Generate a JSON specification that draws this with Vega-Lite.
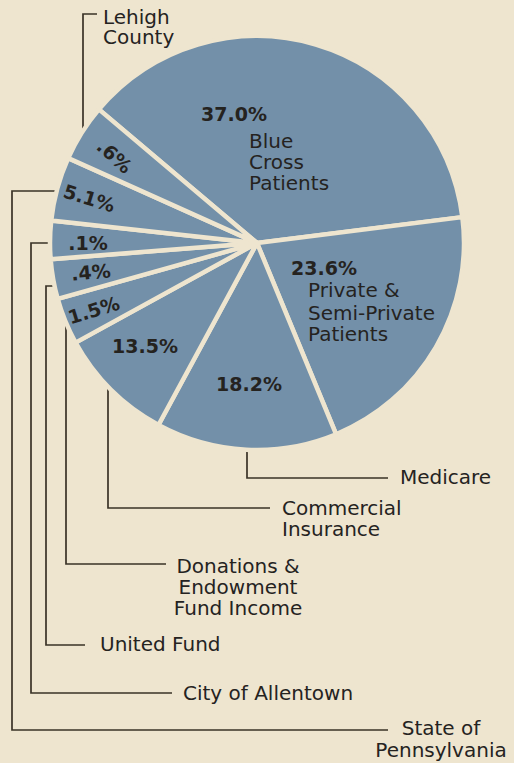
{
  "$schema": "https://vega.github.io/schema/vega-lite/v6.json",
  "width": 514,
  "height": 763,
  "autosize": {"type": "none"},
  "padding": 0,
  "background": "#eee5cf",
  "config": {"view": {"stroke": null}},
  "datasets": {
    "sources": [
      {"rank": 1, "source": "Blue Cross Patients", "pct": 37.0, "drawn": 36.84},
      {"rank": 2, "source": "Private & Semi-Private Patients", "pct": 23.6, "drawn": 20.75},
      {"rank": 3, "source": "Medicare", "pct": 18.2, "drawn": 14.14},
      {"rank": 4, "source": "Commercial Insurance", "pct": 13.5, "drawn": 9.11},
      {"rank": 5, "source": "Donations & Endowment Fund Income", "pct": 1.5, "drawn": 3.64},
      {"rank": 6, "source": "United Fund", "pct": 0.4, "drawn": 3.11},
      {"rank": 7, "source": "City of Allentown", "pct": 0.1, "drawn": 2.97},
      {"rank": 8, "source": "State of Pennsylvania", "pct": 5.1, "drawn": 5.0},
      {"rank": 9, "source": "Lehigh County", "pct": 0.6, "drawn": 4.44}
    ],
    "leaders": [
      {"leader": "Lehigh County", "step": 1, "x": 97, "y": 14},
      {"leader": "Lehigh County", "step": 2, "x": 83, "y": 14},
      {"leader": "Lehigh County", "step": 3, "x": 83, "y": 138},
      {"leader": "State of Pennsylvania", "step": 1, "x": 62, "y": 191},
      {"leader": "State of Pennsylvania", "step": 2, "x": 12, "y": 191},
      {"leader": "State of Pennsylvania", "step": 3, "x": 12, "y": 730},
      {"leader": "State of Pennsylvania", "step": 4, "x": 388, "y": 730},
      {"leader": "City of Allentown", "step": 1, "x": 56, "y": 243},
      {"leader": "City of Allentown", "step": 2, "x": 31, "y": 243},
      {"leader": "City of Allentown", "step": 3, "x": 31, "y": 693},
      {"leader": "City of Allentown", "step": 4, "x": 172, "y": 693},
      {"leader": "United Fund", "step": 1, "x": 60, "y": 286},
      {"leader": "United Fund", "step": 2, "x": 46, "y": 286},
      {"leader": "United Fund", "step": 3, "x": 46, "y": 645},
      {"leader": "United Fund", "step": 4, "x": 85, "y": 645},
      {"leader": "Donations & Endowment Fund Income", "step": 1, "x": 66, "y": 314},
      {"leader": "Donations & Endowment Fund Income", "step": 2, "x": 66, "y": 564},
      {"leader": "Donations & Endowment Fund Income", "step": 3, "x": 166, "y": 564},
      {"leader": "Commercial Insurance", "step": 1, "x": 108, "y": 380},
      {"leader": "Commercial Insurance", "step": 2, "x": 108, "y": 508},
      {"leader": "Commercial Insurance", "step": 3, "x": 270, "y": 508},
      {"leader": "Medicare", "step": 1, "x": 247, "y": 444},
      {"leader": "Medicare", "step": 2, "x": 247, "y": 478},
      {"leader": "Medicare", "step": 3, "x": 388, "y": 478}
    ],
    "pcts": [
      {"label": "37.0%", "x": 234, "y": 115},
      {"label": "23.6%", "x": 324, "y": 269},
      {"label": "18.2%", "x": 249, "y": 385},
      {"label": "13.5%", "x": 145, "y": 347},
      {"label": "1.5%", "x": 94, "y": 311},
      {"label": ".4%", "x": 91, "y": 273},
      {"label": ".1%", "x": 88, "y": 244},
      {"label": "5.1%", "x": 89, "y": 199},
      {"label": ".6%", "x": 114, "y": 157}
    ],
    "names": [
      {"block": "Blue Cross Patients", "text": "Blue", "x": 249, "y": 148},
      {"block": "Blue Cross Patients", "text": "Cross", "x": 249, "y": 169},
      {"block": "Blue Cross Patients", "text": "Patients", "x": 249, "y": 190},
      {"block": "Private & Semi-Private Patients", "text": "Private &", "x": 308, "y": 297},
      {"block": "Private & Semi-Private Patients", "text": "Semi-Private", "x": 308, "y": 320},
      {"block": "Private & Semi-Private Patients", "text": "Patients", "x": 308, "y": 341},
      {"block": "Lehigh County", "text": "Lehigh", "x": 103, "y": 24},
      {"block": "Lehigh County", "text": "County", "x": 103, "y": 44},
      {"block": "Medicare", "text": "Medicare", "x": 400, "y": 484},
      {"block": "Commercial Insurance", "text": "Commercial", "x": 282, "y": 515},
      {"block": "Commercial Insurance", "text": "Insurance", "x": 282, "y": 536},
      {"block": "Donations & Endowment Fund Income", "text": "Donations &", "x": 238, "y": 573},
      {"block": "Donations & Endowment Fund Income", "text": "Endowment", "x": 238, "y": 594},
      {"block": "Donations & Endowment Fund Income", "text": "Fund Income", "x": 238, "y": 615},
      {"block": "United Fund", "text": "United Fund", "x": 100, "y": 651},
      {"block": "City of Allentown", "text": "City of Allentown", "x": 183, "y": 700},
      {"block": "State of Pennsylvania", "text": "State of", "x": 441, "y": 735},
      {"block": "State of Pennsylvania", "text": "Pennsylvania", "x": 441, "y": 757}
    ]
  },
  "layer": [
    {
      "data": {"name": "leaders"},
      "mark": {"type": "line", "color": "#3a3327", "strokeWidth": 1.7, "strokeJoin": "miter"},
      "encoding": {
        "x": {"field": "x", "type": "quantitative", "scale": {"domain": [0, 514], "nice": false, "zero": false}, "axis": null},
        "y": {"field": "y", "type": "quantitative", "scale": {"domain": [0, 763], "nice": false, "zero": false, "reverse": true}, "axis": null},
        "detail": {"field": "leader"},
        "order": {"field": "step"}
      }
    },
    {
      "data": {"name": "sources"},
      "mark": {"type": "arc", "outerRadius": 207, "color": "#7390a9", "stroke": "#eee5cf", "strokeWidth": 4.5, "strokeJoin": "round"},
      "encoding": {
        "x": {"datum": 257, "type": "quantitative", "axis": null},
        "y": {"datum": 243, "type": "quantitative", "axis": null},
        "theta": {"field": "drawn", "type": "quantitative", "stack": true, "scale": {"range": [-0.8692, 5.414]}},
        "detail": {"field": "source"},
        "order": {"field": "rank"},
        "tooltip": [{"field": "source"}, {"field": "pct", "title": "percent"}]
      }
    },
    {
      "data": {"name": "pcts"},
      "mark": {
        "type": "text", "font": "DejaVu Sans", "fontWeight": "bold", "fontSize": 19,
        "color": "#25231f", "align": "center", "baseline": "middle",
        "angle": {"expr": "datum.label === '.6%' ? 42 : datum.label === '5.1%' ? 17 : datum.label === '.4%' ? -5 : datum.label === '1.5%' ? -17 : 0"}
      },
      "encoding": {
        "x": {"field": "x", "type": "quantitative", "axis": null},
        "y": {"field": "y", "type": "quantitative", "axis": null},
        "text": {"field": "label"}
      }
    },
    {
      "data": {"name": "names"},
      "mark": {
        "type": "text", "font": "DejaVu Sans", "fontSize": 20, "color": "#25231f", "baseline": "alphabetic",
        "align": {"expr": "(datum.block === 'Donations & Endowment Fund Income' || datum.block === 'State of Pennsylvania') ? 'center' : 'left'"}
      },
      "encoding": {
        "x": {"field": "x", "type": "quantitative", "axis": null},
        "y": {"field": "y", "type": "quantitative", "axis": null},
        "text": {"field": "text"}
      }
    }
  ]
}
